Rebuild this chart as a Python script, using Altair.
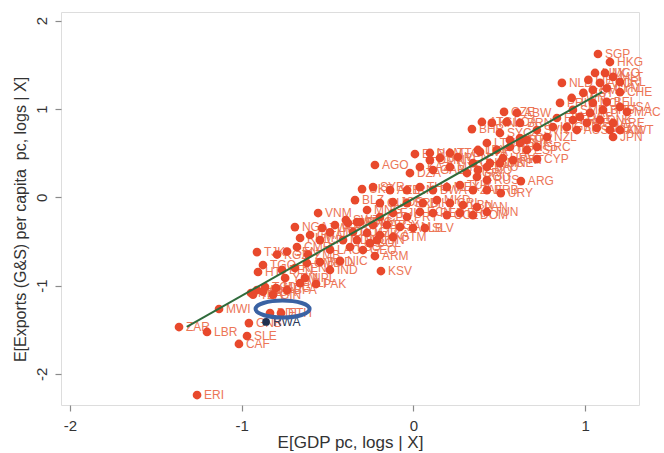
import altair as alt
import pandas as pd

# ---- data ----
iso = ["ZAR","LBR","MWI","GNB","SLE","CAF","ERI","ETH","BDI","NER","MOZ","TCD","MDG","BFA","MLI","PAK",
       "TZA","UGA","GIN","NPL","HTI","TGO","TJK","BEN","KEN","GMB","BGD","NIC","KGZ","SEN","CMR","ZMB",
       "LAO","KHM","GHA","CIV","NGA","VNM","MRT","SDN","MNG","ARM","KSV","YEM","IND","HND","MDA","LSO",
       "GEO","PHL","BOL","IDN","COG","UZB","LKA","GTM","PNG","MAR","EGY","JAM","ALB","SLV","SWZ","CPV",
       "FJI","PRY","ECU","PER","COL","BRA","DOM","TUN","GUY","JOR","SRB","BIH","MKD","CRI","LBN","PAN",
       "BLZ","UKR","SYR","AZE","IRN","THA","BWA","MEX","TUR","ZAF","BRB","URY","ARG","AGO","DZA","KAZ",
       "GAB","MYS","BGR","ROU","RUS","CHL","MUS","HRV","BLR","NAM","SUR","TTO","LVA","LTU","POL","HUN",
       "SVK","VEN","OMN","GNQ","SAU","MNE","PRT","CYP","ESP","SVN","KOR","ISR","LBY","SYC","BHR","ATG",
       "KNA","CZE","ABW","LCA","BRN","GRC","NZL","ITA","ISL","FIN","GBR","FRA","AUS","DEU","SWE","DNK",
       "CAN","KWT","ARE","JPN","QAT","AUT","BHS","USA","MAC","BEL","NCL","PRI","TWN","EST","BMU","CYM",
       "CHE","NLD","LIE","AND","IRL","LUX","MCO","MLT","SGP","HKG","SMR","ZWE","DJI"]
gdp = [-1.365,-1.202,-1.132,-0.958,-0.969,-1.016,-1.260,-0.771,-0.835,-0.946,-0.911,-0.864,-0.800,-0.736,-0.660,-0.567,
       -0.934,-0.876,-0.818,-0.631,-0.905,-0.876,-0.911,-0.765,-0.690,-0.620,-0.544,-0.427,-0.794,-0.736,-0.678,-0.614,
       -0.486,-0.660,-0.602,-0.544,-0.690,-0.555,-0.381,-0.329,-0.270,-0.224,-0.189,-0.747,-0.486,-0.486,-0.410,-0.369,
       -0.294,-0.329,-0.253,-0.212,-0.352,-0.270,-0.195,-0.119,-0.311,-0.235,-0.154,-0.078,-0.002,0.067,-0.393,-0.195,
       -0.119,-0.037,0.038,0.114,0.195,0.271,0.347,0.428,-0.195,-0.119,-0.037,0.055,0.137,0.213,0.289,0.370,
       -0.340,-0.299,-0.235,-0.136,-0.037,0.038,0.114,0.195,0.271,0.347,0.428,0.509,0.626,-0.224,-0.020,0.038,
       0.114,0.213,0.312,0.370,0.428,0.347,0.446,0.522,0.009,0.096,0.155,0.213,0.388,0.428,0.486,0.562,
       0.621,0.259,0.096,0.376,0.428,0.504,0.580,0.720,0.661,0.719,0.621,0.562,0.376,0.504,0.341,0.399,
       0.457,0.528,0.603,0.544,0.621,0.720,0.778,0.660,0.813,0.836,0.894,0.929,0.952,1.010,1.068,1.087,
       1.145,1.203,1.163,1.163,0.970,1.029,1.104,1.203,1.244,1.126,1.045,0.854,0.922,0.990,1.045,1.126,
       1.203,0.865,1.019,1.087,1.203,1.058,1.116,1.163,1.075,1.145,0.929,-0.532,-0.457]
exports = [-1.469,-1.525,-1.265,-1.424,-1.571,-1.661,-2.239,-1.310,-1.310,-1.084,-1.050,-1.016,-1.027,-1.050,-0.971,-0.982,
           -1.102,-1.068,-1.102,-0.914,-0.846,-0.767,-0.620,-0.823,-0.801,-0.744,-0.733,-0.721,-0.648,-0.614,-0.563,-0.648,
           -0.592,-0.461,-0.427,-0.484,-0.337,-0.178,-0.291,-0.280,-0.144,-0.665,-0.835,-0.914,-0.823,-0.396,-0.484,-0.563,
           -0.597,-0.484,-0.518,-0.484,-0.393,-0.404,-0.427,-0.450,-0.280,-0.314,-0.314,-0.336,-0.348,-0.348,-0.257,-0.223,
           -0.178,-0.223,-0.166,-0.178,-0.201,-0.178,-0.201,-0.166,-0.065,-0.053,-0.065,-0.065,-0.031,-0.065,-0.087,-0.110,
           -0.031,0.093,0.116,0.082,0.082,0.116,0.082,0.116,0.139,0.082,0.082,0.048,0.184,0.366,0.275,0.343,
           0.309,0.343,0.275,0.230,0.196,0.388,0.388,0.445,0.490,0.502,0.445,0.502,0.514,0.615,0.536,0.570,
           0.615,0.456,0.422,0.309,0.343,0.388,0.422,0.433,0.536,0.762,0.671,0.649,0.536,0.728,0.773,0.853,
           0.842,0.967,0.956,0.853,0.842,0.570,0.683,0.649,0.796,0.898,0.796,0.875,0.762,0.842,0.785,0.875,
           0.762,0.762,0.842,0.683,0.910,0.956,0.990,1.024,0.967,1.080,1.069,1.069,1.125,1.182,1.216,1.235,
           1.190,1.295,1.329,1.295,1.306,1.408,1.408,1.363,1.623,1.532,0.990,-0.348,-0.314]

hl_iso = ["RWA"]
hl_gdp = [-0.858]
hl_exports = [-1.412]

fit_gdp = [-1.32, 1.10]
fit_exports = [-1.467, 1.195]

ring_gdp = [-0.762]
ring_exports = [-1.265]

x_domain = [-2.0524, 1.314]
y_domain = [-2.352, 2.0985]
x_ticks = [-2, -1, 0, 1]
y_ticks = [-2, -1, 0, 1, 2]

# ---- chart ----
FONT = "Liberation Sans"
PT = "#E8492C"
LAB = "#EC7657"

df = pd.DataFrame({"iso": iso, "x": gdp, "y": exports})
hl = pd.DataFrame({"iso": hl_iso, "x": hl_gdp, "y": hl_exports})
fit = pd.DataFrame({"x": fit_gdp, "y": fit_exports})
ring = pd.DataFrame({"x": ring_gdp, "y": ring_exports})

xs = alt.Scale(domain=x_domain, nice=False, zero=False)
ys = alt.Scale(domain=y_domain, nice=False, zero=False)

xax = alt.Axis(values=x_ticks, title="E[GDP pc, logs | X]", grid=False, domain=False,
               tickSize=6, tickColor="#8a8a8a", tickWidth=1.2,
               labelExpr="'' + datum.value", labelFont=FONT, labelFontSize=15, labelColor="#333333",
               labelPadding=7, titleFont=FONT, titleFontSize=17, titleFontWeight="normal",
               titleColor="#333333", titleY=37, titleBaseline="middle")
yax = alt.Axis(values=y_ticks, title="E[Exports (G&S) per capita\u00a0 pc, logs | X]", grid=False, domain=False,
               tickSize=6, tickColor="#8a8a8a", tickWidth=1.2,
               labelExpr="'' + datum.value", labelFont=FONT, labelFontSize=15, labelColor="#333333",
               labelAngle=270, labelAlign="center", labelBaseline="bottom", labelPadding=6,
               titleFont=FONT, titleFontSize=16, titleFontWeight="normal", titleColor="#333333",
               titleAngle=270, titleX=-41, titleY=207, titleAlign="center", titleBaseline="middle")

X = alt.X("x:Q", scale=xs, axis=xax)
Y = alt.Y("y:Q", scale=ys, axis=yax)

labels = alt.Chart(df).mark_text(align="left", baseline="middle", dx=7, font=FONT,
                                 fontSize=12, color=LAB).encode(x=X, y=Y, text="iso:N")
pts = alt.Chart(df).mark_circle(size=76, opacity=1, color=PT).encode(x=X, y=Y)
fitline = alt.Chart(fit).mark_line(color="#2f6b3b", strokeWidth=2).encode(x=X, y=Y)
hl_lab = alt.Chart(hl).mark_text(align="left", baseline="middle", dx=7, font=FONT,
                                 fontSize=12, color="#2b3a5a").encode(x=X, y=Y, text="iso:N")
hl_pt = alt.Chart(hl).mark_circle(size=60, opacity=1, color="#1f3150").encode(x=X, y=Y)
ell = ("M -1 0 C -1 -0.174 -0.552 -0.315 0 -0.315 C 0.552 -0.315 1 -0.174 1 0 "
       "C 1 0.174 0.552 0.315 0 0.315 C -0.552 0.315 -1 0.174 -1 0 Z")
ring_m = alt.Chart(ring).mark_point(shape=ell, size=2916, filled=False, stroke="#3a62a3",
                                    strokeWidth=4, opacity=1).encode(x=X, y=Y)

chart = alt.layer(labels, pts, fitline, hl_lab, hl_pt, ring_m).properties(
    width=578, height=393,
    autosize=alt.AutoSizeParams(type="none"),
    padding={"left": 61, "top": 12, "right": 25, "bottom": 48},
).configure_view(stroke="#8c8c8c", strokeWidth=1.5).configure(background="white")

chart.save("out.html", embed_options={"renderer": "svg", "actions": False})
